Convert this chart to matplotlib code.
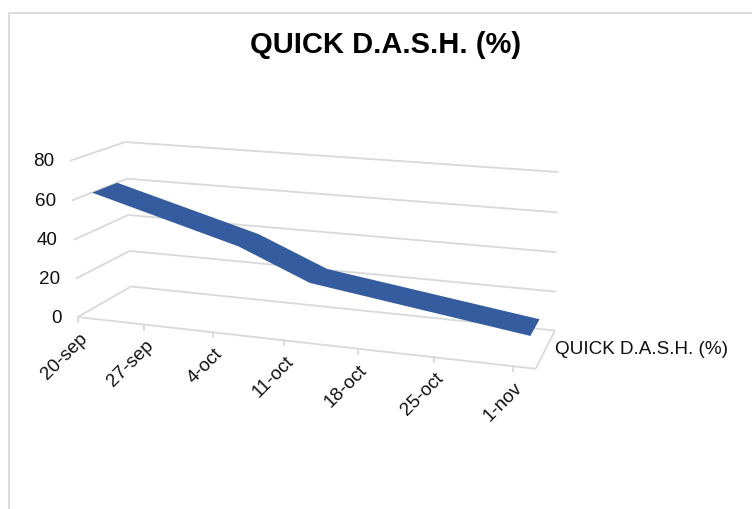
import numpy as np
import matplotlib
matplotlib.use("Agg")
import matplotlib.pyplot as plt

plt.rcParams["font.family"] = ["Liberation Sans", "DejaVu Sans"]

title = "QUICK D.A.S.H. (%)"
series_name = "QUICK D.A.S.H. (%)"
tick_days = [0, 7, 14, 21, 28, 35, 42]
tick_labels = ["20-sep", "27-sep", "4-oct", "11-oct", "18-oct", "25-oct", "1-nov"]
value_ticks = [0, 20, 40, 60, 80]

days = [0.5, 15.5, 22.5, 43]
values = [61, 40, 25, 10]

DAY_MAX = 44
W, H = 752, 509
GRID = "#d9d9d9"
BLUE = "#365ca0"

# (day, value, depth) -> pixel pairs, used to fit the camera
anchors = [
    (0, 0, 0, 78, 316), (7, 0, 0, 145, 324), (14, 0, 0, 213, 332), (21, 0, 0, 284, 340),
    (28, 0, 0, 359, 350), (35, 0, 0, 435, 358), (42, 0, 0, 516, 367), (44, 0, 0, 531, 368),
    (0, 20, 0, 75, 278), (0, 40, 0, 73, 240), (0, 60, 0, 72, 201), (0, 80, 0, 70, 161),
    (0, 0, 1, 130, 286), (0, 20, 1, 130, 251), (0, 40, 1, 129, 216), (0, 60, 1, 127, 179),
    (0, 80, 1, 125, 142), (44, 0, 1, 557, 331), (44, 20, 1, 553, 292), (44, 40, 1, 556, 252),
    (44, 60, 1, 558, 212), (44, 80, 1, 559, 171),
]


def fit_camera(pairs):
    A, b = [], []
    for d, v, z, px, py in pairs:
        A.append([d, v, z, 1, 0, 0, 0, 0, -px * d, -px * v, -px * z])
        b.append(px)
        A.append([0, 0, 0, 0, d, v, z, 1, -py * d, -py * v, -py * z])
        b.append(py)
    p = np.linalg.lstsq(np.array(A, float), np.array(b, float), rcond=None)[0]
    return np.append(p, 1).reshape(3, 4)


P = fit_camera(anchors)


def project(d, v, z):
    d, v, z = np.broadcast_arrays(np.asarray(d, float), np.asarray(v, float), np.asarray(z, float))
    q = P @ np.array([d, v, z, np.ones_like(d)])
    return q[0] / q[2], q[1] / q[2]


def grid_line(d, v, z, lw=1.3):
    x, y = project(d, v, z)
    ax.plot(x, y, color=GRID, lw=lw, solid_capstyle="butt", zorder=1)


fig = plt.figure(figsize=(W / 100, H / 100), dpi=100)
ax = fig.add_axes([0, 0, 1, 1])
ax.set_xlim(0, W)
ax.set_ylim(H, 0)
ax.axis("off")

# chart frame, cut by the image on the right and bottom
ax.plot([8.5, 8.5, W], [H, 12.5, 12.5], color=GRID, lw=1.3)

# walls
for v in value_ticks:
    grid_line([0, 0], [v, v], [0, 1])
    grid_line([0, DAY_MAX], [v, v], [1, 1])
    x, y = project(0, v, 0)
    ax.text(x - 16, y + 1, str(v), ha="right", va="center", fontsize=13.6, color="#111111")

# floor
grid_line([0, DAY_MAX], [0, 0], [0, 0])
grid_line([DAY_MAX, DAY_MAX], [0, 0], [0, 1])

# date axis
for d, lab in zip(tick_days, tick_labels):
    x, y = project(d, 0, 0)
    ax.plot([x, x], [y, y + 5], color=GRID, lw=1.3, zorder=1)
    ax.text(x + 7, y + 19, lab, rotation=45, rotation_mode="anchor", ha="right", va="center",
            fontsize=13.6, color="#111111")

# ribbon
fx, fy = project(days, values, 0.27)
bx, by = project(days, values, 0.73)
ax.fill(np.r_[fx, bx[::-1]], np.r_[fy, by[::-1]], color=BLUE, lw=0, zorder=3)

ax.text(555, 349, series_name, ha="left", va="center", fontsize=13.6, color="#111111")
ax.text(386, 45, title, ha="center", va="center", fontsize=21, fontweight="bold", color="#000000")

fig.savefig("out.png", dpi=100)
